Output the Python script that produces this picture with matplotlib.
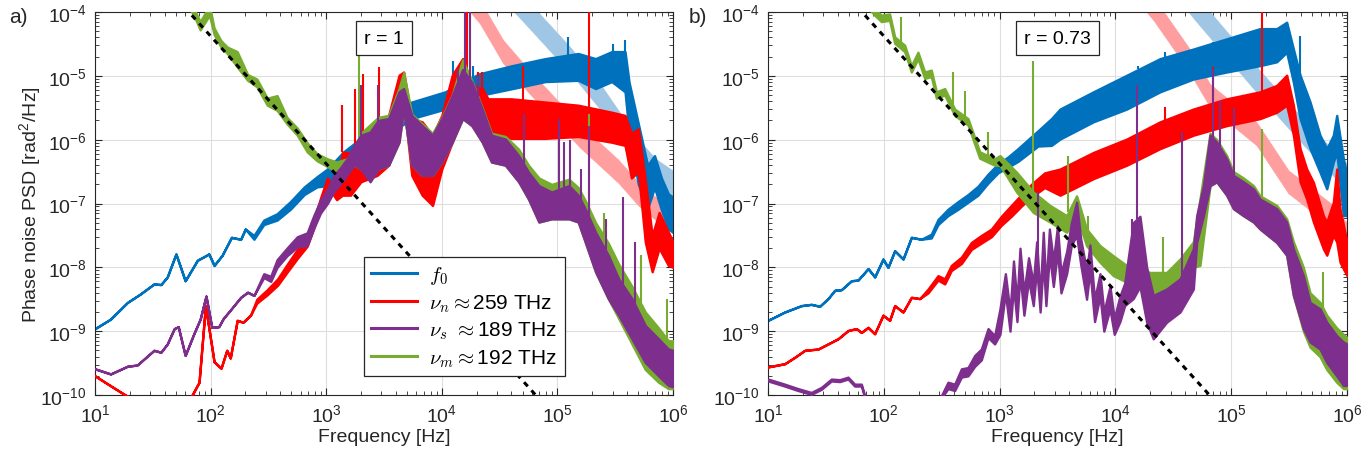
import numpy as np
import matplotlib
matplotlib.use("Agg")
import matplotlib.pyplot as plt
from matplotlib.ticker import FixedLocator, FixedFormatter, NullFormatter
from matplotlib.font_manager import FontProperties

plt.rcParams['font.family'] = ['Liberation Sans Narrow', 'Liberation Sans', 'DejaVu Sans']
plt.rcParams['mathtext.fontset'] = 'cm'

# colours (MATLAB style)
C_F0 = '#0072BD'
C_NN = '#FF0000'
C_NS = '#7E2F8E'
C_NM = '#77AC30'
C_LB = '#9FC6E4'
C_LR = '#FF9E9E'

# ---------------- data (log10 f, log10 PSD) ----------------
# panel a) r = 1
a_f0_lf = [1.00, 1.135, 1.28, 1.39, 1.51, 1.57, 1.625, 1.70, 1.78, 1.885, 1.985, 2.03, 2.10, 2.18,
           2.26, 2.30, 2.375, 2.46, 2.575, 2.69, 2.81, 2.92, 3.01, 3.15, 3.30, 3.44, 3.74, 4.03,
           4.32, 4.61, 4.895, 5.18, 5.33, 5.47, 5.585, 5.62, 5.70, 5.78, 5.84, 5.90, 5.96, 6.00]
a_f0_hi = [-8.96, -8.81, -8.55, -8.42, -8.26, -8.27, -8.15, -7.79, -8.21, -7.89, -7.79, -7.97, -7.81, -7.53,
           -7.56, -7.40, -7.50, -7.26, -7.16, -6.97, -6.74, -6.58, -6.46, -6.19, -5.98, -5.72, -5.41, -5.25,
           -4.97, -4.84, -4.73, -4.65, -4.73, -4.62, -4.62, -5.10, -5.75, -6.40, -6.25, -6.60, -6.85, -6.90]
a_f0_lo = [-8.96, -8.81, -8.55, -8.42, -8.26, -8.27, -8.15, -7.79, -8.21, -7.89, -7.79, -7.97, -7.81, -7.53,
           -7.56, -7.40, -7.56, -7.33, -7.26, -7.09, -6.86, -6.74, -6.72, -6.46, -6.30, -6.04, -5.67, -5.52,
           -5.31, -5.20, -5.09, -5.07, -5.20, -5.09, -5.25, -5.90, -6.70, -7.08, -6.75, -7.10, -7.40, -7.45]

a_nn_lf = [1.00, 1.13, 1.28, 1.35, 1.60, 1.80, 1.84, 1.90, 1.955, 2.03, 2.09, 2.14, 2.17, 2.23, 2.28, 2.345,
           2.40, 2.49, 2.58, 2.66, 2.75, 2.835, 2.89, 2.95, 3.01, 3.09, 3.14, 3.21, 3.30, 3.44, 3.54, 3.63,
           3.67, 3.74, 3.83, 3.92, 4.00, 4.09, 4.18, 4.26, 4.35, 4.40, 4.60, 4.89, 5.18, 5.47, 5.585, 5.64,
           5.70, 5.76, 5.82, 5.88, 5.96, 6.00]
a_nn_hi = [-9.70, -9.85, -10.02, -10.15, -10.6, -10.4, -10.0, -9.80, -8.60, -9.48, -9.58, -9.30, -9.42, -8.83,
           -8.86, -8.75, -8.50, -8.35, -8.18, -7.96, -7.72, -7.55, -7.28, -6.92, -6.60, -6.80, -6.20, -6.20,
           -5.93, -5.78, -5.62, -4.99, -4.94, -5.67, -5.72, -5.93, -5.62, -4.99, -4.73, -5.15, -5.20, -5.36,
           -5.36, -5.41, -5.46, -5.57, -5.62, -5.90, -5.83, -6.63, -7.50, -7.14, -7.45, -7.60]
a_nn_lo = [-9.70, -9.85, -10.02, -10.15, -10.6, -10.4, -10.0, -9.80, -8.60, -9.48, -9.58, -9.30, -9.42, -8.83,
           -8.86, -8.75, -8.56, -8.43, -8.28, -8.08, -7.86, -7.67, -7.40, -7.04, -6.72, -6.94, -6.87, -6.87,
           -6.66, -6.56, -6.40, -5.93, -5.41, -6.56, -6.87, -7.03, -6.46, -6.04, -5.62, -5.78, -5.93, -5.88,
           -5.98, -5.98, -5.95, -6.04, -6.09, -6.60, -6.50, -7.60, -8.07, -7.70, -7.97, -8.00]

a_ns_lf = [1.00, 1.135, 1.28, 1.365, 1.51, 1.57, 1.625, 1.685, 1.72, 1.78, 1.855, 1.91, 1.96, 2.01, 2.07,
           2.11, 2.17, 2.26, 2.32, 2.375, 2.46, 2.52, 2.575, 2.66, 2.75, 2.835, 2.89, 2.95, 3.01, 3.07,
           3.12, 3.18, 3.24, 3.30, 3.38, 3.45, 3.54, 3.63, 3.67, 3.74, 3.83, 3.92, 4.00, 4.09, 4.18,
           4.26, 4.35, 4.43, 4.55, 4.665, 4.75, 4.84, 4.95, 5.10, 5.18, 5.24, 5.33, 5.44, 5.53, 5.645,
           5.76, 5.875, 5.96, 6.00]
a_ns_hi = [-9.59, -9.67, -9.55, -9.53, -9.30, -9.33, -9.20, -8.96, -8.93, -9.38, -9.04, -8.81, -8.45, -8.94, -8.93,
           -8.80, -8.67, -8.47, -8.39, -8.44, -8.10, -8.14, -7.88, -7.70, -7.52, -7.46, -7.20, -6.95, -6.78, -6.55,
           -6.45, -6.30, -6.10, -5.93, -5.88, -5.70, -5.67, -5.25, -5.20, -5.62, -5.78, -5.93, -5.67, -5.31, -4.90,
           -5.10, -5.52, -5.93, -5.99, -6.25, -6.51, -6.72, -6.82, -6.72, -6.87, -7.08, -7.45, -7.81, -8.18, -8.49,
           -8.91, -9.12, -9.28, -9.30]
a_ns_lo = [-9.59, -9.67, -9.55, -9.53, -9.30, -9.33, -9.20, -8.96, -8.93, -9.38, -9.04, -8.81, -8.45, -8.94, -8.93,
           -8.80, -8.67, -8.47, -8.39, -8.44, -8.16, -8.22, -8.00, -7.82, -7.68, -7.66, -7.40, -7.15, -7.00, -6.80,
           -6.70, -6.55, -6.40, -6.46, -6.66, -6.46, -6.40, -6.04, -5.52, -6.40, -6.56, -6.56, -6.35, -6.04, -5.67,
           -5.78, -6.04, -6.35, -6.40, -6.66, -6.93, -7.29, -7.24, -7.24, -7.29, -7.60, -8.07, -8.49, -8.75, -9.12,
           -9.49, -9.70, -9.85, -9.87]

a_nm_lf = [1.60, 1.80, 1.855, 1.91, 1.99, 2.03, 2.09, 2.145, 2.23, 2.32, 2.40, 2.49, 2.575, 2.66, 2.75,
           2.835, 2.92, 3.01, 3.09, 3.18, 3.24, 3.30, 3.45, 3.54, 3.63, 3.67, 3.74, 3.83, 3.92, 4.00,
           4.09, 4.18, 4.26, 4.35, 4.43, 4.55, 4.665, 4.75, 4.84, 4.95, 5.10, 5.18, 5.24, 5.33, 5.44,
           5.53, 5.645, 5.76, 5.875, 5.96, 6.00]
a_nm_hi = [-3.30, -3.80, -3.95, -4.15, -3.90, -4.25, -4.45, -4.55, -4.62, -4.98, -5.05, -5.35, -5.31, -5.65, -5.82,
           -6.05, -6.22, -6.30, -6.35, -6.30, -6.15, -5.90, -5.65, -5.62, -5.20, -4.95, -5.60, -5.75, -5.90, -5.65,
           -5.30, -4.75, -5.08, -5.50, -5.90, -5.95, -6.15, -6.40, -6.60, -6.70, -6.62, -6.75, -6.95, -7.30, -7.62,
           -7.95, -8.30, -8.70, -8.95, -9.15, -9.15]
a_nm_lo = [-3.40, -3.90, -4.05, -4.28, -4.05, -4.35, -4.55, -4.65, -4.86, -5.07, -5.17, -5.46, -5.54, -5.75, -5.93,
           -6.19, -6.33, -6.42, -6.50, -6.50, -6.40, -6.46, -6.46, -6.40, -6.04, -5.52, -6.40, -6.56, -6.56, -6.35,
           -6.04, -5.67, -5.78, -6.04, -6.35, -6.40, -6.66, -6.93, -7.29, -7.24, -7.24, -7.29, -7.60, -8.07, -8.49,
           -8.80, -9.20, -9.60, -9.80, -9.90, -9.90]

# pale bands
a_lb_lf = [4.50, 4.73, 5.11, 5.36, 5.53, 5.70, 5.85, 6.05]
a_lb_hi = [-3.35, -3.80, -4.55, -5.10, -5.55, -6.00, -6.30, -6.55]
a_lb_lo = [-3.75, -4.20, -4.95, -5.50, -5.95, -6.40, -6.70, -6.95]
a_lr_lf = [4.10, 4.33, 4.53, 4.76, 5.20, 5.53, 5.70, 5.93, 6.05]
a_lr_hi = [-3.32, -3.82, -4.44, -4.92, -5.77, -6.32, -6.67, -7.02, -7.17]
a_lr_lo = [-3.68, -4.18, -4.80, -5.28, -6.13, -6.68, -7.03, -7.38, -7.53]

# narrow spurs (log10 f, log10 peak)
a_f0_spk = ([4.10, 4.27, 5.09, 5.48, 5.585], [-4.76, -4.85, -4.39, -4.50, -4.44])
a_nn_spk = ([3.14, 3.25, 3.32, 3.455, 4.14, 4.22, 4.31, 4.35, 4.70, 4.98, 5.27],
            [-5.46, -5.20, -4.97, -4.86, -4.84, -3.90, -4.94, -4.94, -4.84, -5.57, -3.90])
a_ns_spk = ([3.30, 3.45, 4.14, 4.20, 4.24, 4.31, 4.71, 5.01, 5.06, 5.11, 5.20, 5.27, 5.42, 5.57, 5.67],
            [-5.15, -5.15, -4.90, -3.90, -3.90, -5.00, -5.60, -5.67, -6.04, -6.00, -6.46, -5.78, -7.24, -6.90, -7.60])
a_nm_spk = ([3.28, 5.27, 5.40, 5.72, 5.95], [-4.63, -5.60, -7.15, -7.80, -8.50])

# panel b) r = 0.73
b_f0_lf = [1.00, 1.144, 1.288, 1.374, 1.446, 1.518, 1.576, 1.633, 1.72, 1.777, 1.864, 1.921, 1.993, 2.036,
           2.094, 2.166, 2.238, 2.324, 2.41, 2.468, 2.554, 2.641, 2.727, 2.813, 2.90, 2.986, 3.073, 3.159,
           3.245, 3.332, 3.447, 3.522, 3.81, 4.098, 4.386, 4.673, 4.961, 5.249, 5.393, 5.479, 5.537, 5.595,
           5.681, 5.767, 5.825, 5.882, 5.911, 5.969, 6.00]
b_f0_hi = [-8.83, -8.70, -8.60, -8.58, -8.61, -8.49, -8.36, -8.35, -8.21, -8.20, -8.02, -8.15, -7.87, -8.00,
           -7.74, -7.87, -7.53, -7.56, -7.48, -7.25, -7.09, -6.97, -6.86, -6.73, -6.54, -6.38, -6.27, -6.14,
           -6.00, -5.86, -5.67, -5.52, -5.25, -4.99, -4.73, -4.58, -4.42, -4.26, -4.26, -4.16, -4.58, -4.99,
           -5.41, -5.93, -6.14, -5.93, -5.62, -6.30, -6.56]
b_f0_lo = [-8.83, -8.70, -8.60, -8.58, -8.61, -8.49, -8.36, -8.35, -8.21, -8.20, -8.02, -8.15, -7.87, -8.00,
           -7.74, -7.87, -7.53, -7.56, -7.54, -7.33, -7.19, -7.09, -6.98, -6.87, -6.68, -6.52, -6.43, -6.34,
           -6.22, -6.10, -6.09, -5.99, -5.72, -5.52, -5.25, -5.05, -4.94, -4.84, -4.78, -4.63, -5.10, -5.67,
           -6.14, -6.51, -6.77, -6.35, -6.20, -7.19, -7.19]

b_nn_lf = [1.00, 1.144, 1.23, 1.317, 1.432, 1.518, 1.604, 1.691, 1.763, 1.806, 1.864, 1.921, 1.993, 2.05,
           2.094, 2.166, 2.238, 2.31, 2.382, 2.468, 2.526, 2.583, 2.67, 2.756, 2.842, 2.929, 3.015, 3.101,
           3.188, 3.274, 3.389, 3.522, 3.81, 4.098, 4.386, 4.673, 4.961, 5.249, 5.393, 5.479, 5.537, 5.595,
           5.652, 5.71, 5.796, 5.825, 5.882, 5.911, 5.94, 6.00]
b_nn_hi = [-9.56, -9.51, -9.41, -9.30, -9.28, -9.20, -9.12, -8.99, -8.96, -9.02, -8.94, -9.04, -8.75, -8.83,
           -8.60, -8.70, -8.47, -8.49, -8.34, -8.13, -8.18, -7.97, -7.84, -7.61, -7.50, -7.40, -7.20, -7.03,
           -6.86, -6.70, -6.52, -6.46, -6.20, -5.99, -5.72, -5.52, -5.36, -5.25, -5.15, -4.99, -5.46, -6.14,
           -6.46, -6.67, -7.19, -7.29, -6.98, -6.46, -7.08, -7.61]
b_nn_lo = [-9.56, -9.51, -9.41, -9.30, -9.28, -9.20, -9.12, -8.99, -8.96, -9.02, -8.94, -9.04, -8.75, -8.83,
           -8.60, -8.70, -8.47, -8.49, -8.40, -8.20, -8.26, -8.05, -7.94, -7.72, -7.62, -7.52, -7.34, -7.20,
           -7.04, -6.90, -6.75, -6.87, -6.61, -6.40, -6.14, -5.93, -5.78, -5.67, -5.57, -5.46, -5.93, -6.66,
           -6.93, -7.29, -7.71, -7.81, -7.50, -7.60, -7.92, -8.13]

b_ns_lf = [1.00, 1.144, 1.259, 1.374, 1.461, 1.547, 1.619, 1.691, 1.748, 1.806, 1.835, 1.95, 2.30, 2.45,
           2.497, 2.554, 2.612, 2.67, 2.727, 2.785, 2.842, 2.90, 2.957,
           3.003, 3.05, 3.09, 3.12, 3.15, 3.176, 3.21, 3.25, 3.291, 3.32, 3.35, 3.377, 3.40, 3.43, 3.464,
           3.50, 3.53, 3.579, 3.62, 3.665, 3.70, 3.751, 3.78, 3.82, 3.867, 3.90, 3.953, 3.99, 4.039, 4.08,
           4.154, 4.212, 4.27, 4.327, 4.442, 4.558, 4.673,
           4.702, 4.76, 4.817, 4.875, 4.961, 5.019, 5.105, 5.192, 5.249, 5.393, 5.479, 5.537, 5.623, 5.681,
           5.767, 5.825, 5.911, 5.969, 6.00]
b_ns_hi = [-9.75, -9.83, -9.90, -9.96, -9.88, -9.75, -9.76, -9.72, -9.83, -9.83, -10.01, -10.30, -10.40, -10.20,
           -10.01, -9.80, -9.83, -9.59, -9.57, -9.38, -9.28, -8.96, -9.07,
           -8.65, -8.10, -8.70, -7.90, -8.55, -7.70, -8.40, -7.85, -8.25, -7.60, -8.45, -7.45, -8.30, -7.40, -7.90,
           -7.35, -8.10, -7.75, -7.30, -6.98, -7.55, -8.05, -7.65, -8.50, -8.10, -8.70, -8.30, -8.80, -8.45, -8.25,
           -7.30, -7.20, -8.00, -8.44, -8.34, -8.18, -7.71,
           -7.19, -6.72, -5.93, -6.04, -6.30, -6.56, -6.66, -6.77, -6.93, -7.08, -7.29, -7.71, -8.13, -8.55,
           -8.65, -8.86, -9.07, -9.17, -9.20]
b_ns_lo = [-9.78, -9.86, -9.93, -9.99, -9.91, -9.78, -9.79, -9.75, -9.86, -9.86, -10.04, -10.33, -10.43, -10.23,
           -10.05, -9.90, -9.93, -9.72, -9.70, -9.55, -9.45, -9.10, -9.20,
           -9.05, -8.40, -9.00, -8.30, -8.85, -8.10, -8.75, -8.20, -8.60, -8.00, -8.70, -7.90, -8.60, -7.80, -8.30,
           -7.75, -8.40, -8.10, -7.65, -7.50, -7.95, -8.50, -8.05, -8.85, -8.45, -9.00, -8.65, -9.05, -8.85, -8.60,
           -8.49, -8.30, -8.86, -9.12, -8.86, -8.70, -8.34,
           -7.61, -7.19, -6.72, -6.66, -6.87, -7.08, -7.19, -7.29, -7.40, -7.61, -7.81, -8.44, -8.96, -9.17,
           -9.28, -9.49, -9.70, -9.85, -9.85]

b_nm_lf = [1.60, 1.85, 1.921, 1.979, 2.05, 2.094, 2.18, 2.238, 2.295, 2.353, 2.41, 2.454, 2.526, 2.612,
           2.727, 2.828, 2.957, 3.003, 3.147, 3.291, 3.435, 3.579, 3.665, 3.751, 3.867, 3.982, 4.097, 4.298,
           4.442, 4.558, 4.673, 4.73, 4.817, 4.875, 4.961, 5.019, 5.105, 5.192, 5.249, 5.393, 5.479, 5.537,
           5.623, 5.681, 5.767, 5.825, 5.911, 5.969, 6.00]
b_nm_hi = [-3.30, -3.80, -3.95, -4.05, -4.03, -4.39, -4.52, -4.84, -4.63, -4.94, -4.91, -5.25, -5.20, -5.52,
           -5.67, -6.19, -6.30, -6.25, -6.51, -6.82, -7.03, -7.19, -6.88, -7.40, -7.66, -7.82, -7.97, -8.08,
           -8.08, -7.87, -7.60, -6.93, -5.90, -6.00, -6.25, -6.50, -6.60, -6.72, -6.88, -7.03, -7.24, -7.60,
           -8.00, -8.40, -8.55, -8.75, -8.95, -9.05, -9.10]
b_nm_lo = [-3.40, -3.90, -4.05, -4.15, -4.13, -4.49, -4.62, -4.94, -4.73, -5.04, -5.01, -5.35, -5.30, -5.62,
           -5.77, -6.29, -6.40, -6.40, -6.82, -7.14, -7.29, -7.45, -7.19, -7.66, -7.92, -8.13, -8.23, -8.39,
           -8.40, -8.23, -8.00, -7.97, -6.72, -6.66, -6.87, -7.08, -7.19, -7.29, -7.40, -7.61, -7.81, -8.44,
           -9.00, -9.25, -9.40, -9.60, -9.80, -9.90, -9.90]

b_lb_lf = [4.50, 4.70, 5.249, 5.623, 5.969, 6.05]
b_lb_hi = [-3.30, -3.75, -4.92, -5.68, -6.33, -6.45]
b_lb_lo = [-3.70, -4.15, -5.32, -6.08, -6.73, -6.85]
b_lr_lf = [4.10, 4.33, 4.63, 4.817, 5.22, 5.494, 5.868, 5.983, 6.05]
b_lr_hi = [-3.27, -3.77, -4.55, -5.13, -5.73, -6.48, -7.01, -7.27, -7.37]
b_lr_lo = [-3.63, -4.13, -4.91, -5.49, -6.09, -6.84, -7.37, -7.63, -7.73]

b_f0_spk = ([4.199, 4.43, 4.846, 5.595], [-4.84, -4.63, -4.47, -4.37])
b_nn_spk = ([4.43, 4.573, 4.846, 5.264], [-5.49, -5.88, -4.86, -3.90])
b_ns_spk = ([3.334, 4.14, 4.183, 4.573, 4.846, 4.90, 5.02], [-6.82, -7.24, -5.15, -5.88, -4.89, -5.40, -5.50])
b_nm_spk = ([2.151, 2.598, 2.698, 2.90, 3.288, 3.593, 3.766, 4.414, 5.264, 5.796],
            [-4.08, -4.94, -5.23, -5.88, -4.76, -6.25, -7.19, -7.53, -5.83, -8.08])

# 1/f^2 guide line (same in both panels), end points in Hz and rad^2/Hz
dash_f = [50.0, 1.0e5]
dash_psd = [1.68e-4, 4.2e-11]

x_decades = [1, 2, 3, 4, 5, 6]
y_decades = [-10, -9, -8, -7, -6, -5, -4]
labels = [r'$f_0$', r'$\nu_n \approx$259 THz', r'$\nu_s\ \approx$189 THz', r'$\nu_m \approx$192 THz']
r_text = ['r = 1', 'r = 0.73']


def band(ax, lf, hi, lo, color, lw=1.7, z=2):
    f = 10.0 ** np.asarray(lf)
    ax.fill_between(f, 10.0 ** np.asarray(lo), 10.0 ** np.asarray(hi),
                    facecolor=color, edgecolor=color, lw=lw, zorder=z)


def spurs(ax, spk, lf, hi, color, z=2):
    sf = np.asarray(spk[0])
    base = np.interp(sf, lf, hi)
    ax.vlines(10.0 ** sf, 10.0 ** base, 10.0 ** np.asarray(spk[1]), colors=color, lw=1.5, zorder=z)


def minor_ticks(decades):
    return [m * 10.0 ** d for d in decades[:-1] for m in range(2, 10)]


fig = plt.figure(figsize=(13.66, 4.56), dpi=100)
W, H = 1366.0, 456.0
ax_a = fig.add_axes([95 / W, (H - 396) / H, 578 / W, 383 / H])
ax_b = fig.add_axes([768 / W, (H - 396) / H, 579 / W, 383 / H])

panels = [
    (ax_a, (a_f0_lf, a_f0_hi, a_f0_lo), (a_nn_lf, a_nn_hi, a_nn_lo), (a_ns_lf, a_ns_hi, a_ns_lo),
     (a_nm_lf, a_nm_hi, a_nm_lo), (a_lb_lf, a_lb_hi, a_lb_lo), (a_lr_lf, a_lr_hi, a_lr_lo),
     [a_f0_spk, a_nn_spk, a_nm_spk, a_ns_spk]),
    (ax_b, (b_f0_lf, b_f0_hi, b_f0_lo), (b_nn_lf, b_nn_hi, b_nn_lo), (b_ns_lf, b_ns_hi, b_ns_lo),
     (b_nm_lf, b_nm_hi, b_nm_lo), (b_lb_lf, b_lb_hi, b_lb_lo), (b_lr_lf, b_lr_hi, b_lr_lo),
     [b_f0_spk, b_nn_spk, b_nm_spk, b_ns_spk]),
]

for i, (ax, f0, nn, ns, nm, lb, lr, spk) in enumerate(panels):
    ax.set_xscale('log')
    ax.set_yscale('log')
    band(ax, *lb, C_LB, lw=0.5, z=1)
    band(ax, *lr, C_LR, lw=0.5, z=1)
    band(ax, *f0, C_F0, z=2)
    spurs(ax, spk[0], f0[0], f0[1], C_F0, z=2)
    band(ax, *nn, C_NN, z=3)
    spurs(ax, spk[1], nn[0], nn[1], C_NN, z=3)
    band(ax, *nm, C_NM, z=4)
    spurs(ax, spk[2], nm[0], nm[1], C_NM, z=4)
    band(ax, *ns, C_NS, z=5)
    spurs(ax, spk[3], ns[0], ns[1], C_NS, z=5)
    ax.plot(dash_f, dash_psd, color='black', lw=2.2, linestyle=(0, (1.8, 1.8)), zorder=6)

    ax.set_xlim(10, 1e6)
    ax.set_ylim(1e-10, 1e-4)
    ax.xaxis.set_major_locator(FixedLocator([10.0 ** d for d in x_decades]))
    ax.yaxis.set_major_locator(FixedLocator([10.0 ** d for d in y_decades]))
    ax.xaxis.set_major_formatter(FixedFormatter([r'$\mathregular{10^{%d}}$' % d for d in x_decades]))
    ax.yaxis.set_major_formatter(FixedFormatter([r'$\mathregular{10^{%d}}$' % d for d in y_decades]))
    ax.xaxis.set_minor_locator(FixedLocator(minor_ticks(x_decades)))
    ax.yaxis.set_minor_locator(FixedLocator(minor_ticks(y_decades)))
    ax.xaxis.set_minor_formatter(NullFormatter())
    ax.yaxis.set_minor_formatter(NullFormatter())
    ax.tick_params(which='both', direction='in', top=True, right=True, labelsize=14, colors='#262626')
    ax.tick_params(which='major', length=5, width=0.8, pad=6)
    ax.tick_params(which='minor', length=3, width=0.6)
    ax.grid(True, which='major', color='#dedede', lw=0.8)
    ax.set_axisbelow(True)
    for s in ax.spines.values():
        s.set_color('#262626')
        s.set_linewidth(0.8)
    ax.set_xlabel('Frequency [Hz]', fontsize=14, color='#262626', labelpad=2)
    ax.text(0.5, 0.932, r_text[i], transform=ax.transAxes, ha='center', va='center', fontsize=14,
            zorder=10, bbox=dict(boxstyle='square,pad=0.42', fc='white', ec='#262626', lw=0.9))

ax_a.set_ylabel('Phase noise PSD [rad$^{\\mathregular{2}}$/Hz]', fontsize=14, color='#262626')
ax_a.yaxis.set_label_coords(-0.088, 0.5)

handles = [ax_a.plot([], [], color=c, lw=2.2)[0] for c in (C_F0, C_NN, C_NS, C_NM)]
leg = ax_a.legend(handles, labels, loc='lower left', bbox_to_anchor=(0.465, 0.05), borderaxespad=0,
                  prop=FontProperties(family=['Liberation Sans Narrow', 'Liberation Sans'], size=15,
                                      math_fontfamily='cm'),
                  handlelength=2.2, labelspacing=0.28, borderpad=0.35, handletextpad=0.6,
                  fancybox=False, framealpha=1, edgecolor='#262626')
leg.get_frame().set_linewidth(0.9)
leg.set_zorder(11)

fig.text(0.007, 0.962, 'a)', fontsize=15, va='center', color='#262626')
fig.text(0.504, 0.962, 'b)', fontsize=15, va='center', color='#262626')

fig.savefig('out.png', dpi=100)
